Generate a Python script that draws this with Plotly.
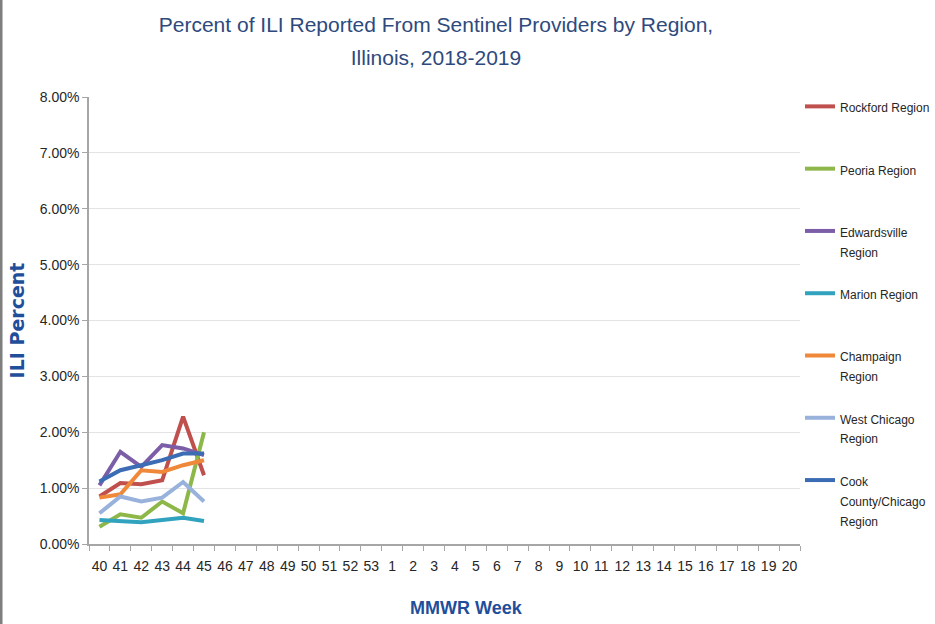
import plotly.graph_objects as go

weeks = [str(w) for w in range(40, 54)] + [str(w) for w in range(1, 21)]
data_weeks = ["40", "41", "42", "43", "44", "45"]

rockford = [0.0085, 0.0109, 0.0107, 0.0114, 0.0228, 0.0123]
peoria = [0.0031, 0.0053, 0.0047, 0.0076, 0.0055, 0.0200]
edwardsville = [0.0105, 0.0165, 0.0138, 0.0177, 0.0171, 0.0159]
marion = [0.0043, 0.0041, 0.0039, 0.0043, 0.0047, 0.0041]
champaign = [0.0083, 0.0089, 0.0132, 0.0129, 0.0141, 0.0150]
west_chicago = [0.0055, 0.0085, 0.0076, 0.0083, 0.0111, 0.0076]
cook = [0.0112, 0.0132, 0.0141, 0.0150, 0.0162, 0.0162]

names = ["Rockford Region", "Peoria Region", "Edwardsville<br>Region", "Marion Region",
         "Champaign<br>Region", "West Chicago<br>Region", "Cook<br>County/Chicago<br>Region"]
values = [rockford, peoria, edwardsville, marion, champaign, west_chicago, cook]
colors = ["#C0504D", "#8DB849", "#7B5EA7", "#31A3BF", "#F0883A", "#98B2DC", "#3C6DB4"]

SANS = "Liberation Sans, Arial, sans-serif"
W, H = 935, 624
L, T, B = 89, 97, 80
AXIS_RIGHT = 800
PAPER_W = W - L
PH = H - T - B
DOM = (AXIS_RIGHT - L) / PAPER_W

fig = go.Figure()
for i, (name, vals, color) in enumerate(zip(names, values, colors)):
    lines = name.split("<br>")
    lines += ["&nbsp;"] * (3 - len(lines))
    label = "<br>".join('<span style="font-size:12px">%s</span>' % s for s in lines)
    fig.add_trace(go.Scatter(
        x=data_weeks, y=vals, mode="lines", name=label,
        legendgroup="g%d" % i,
        line=dict(color=color, width=4),
    ))

fig.update_layout(
    width=W, height=H,
    paper_bgcolor="white", plot_bgcolor="white",
    margin=dict(l=L, r=0, t=T, b=B),
    title=dict(
        text='<span style="font-size:21px">Percent of ILI Reported From Sentinel Providers by Region,</span>'
             '<br><span style="font-size:21px">Illinois, 2018-2019</span>',
        x=436 / W, xanchor="center", xref="container",
        y=1 - 32 / H, yanchor="top", yref="container",
        font=dict(family=SANS, size=25, color="#2E4A7D"),
    ),
    showlegend=True,
    legend=dict(
        xref="paper", yref="paper",
        x=(800 - L) / PAPER_W, xanchor="left", y=1 + (T - 90) / PH, yanchor="top",
        font=dict(family=SANS, size=15.2, color="#262626"),
        valign="top", tracegroupgap=0,
        itemwidth=30, maxheight=600,
        bgcolor="rgba(0,0,0,0)",
    ),
    xaxis=dict(
        domain=[0, DOM],
        type="category", categoryorder="array", categoryarray=weeks,
        range=[-0.5, len(weeks) - 0.5],
        tickmode="array", tickvals=weeks, ticktext=weeks,
        tickson="boundaries", ticks="outside", ticklen=5, tickcolor="#A6A6A6",
        tickangle=0, ticklabelstandoff=8,
        showline=True, linecolor="#A6A6A6", linewidth=1.5,
        showgrid=False,
        tickfont=dict(family=SANS, size=14, color="#262626"),
    ),
    yaxis=dict(
        range=[0, 0.08], tickmode="linear", tick0=0, dtick=0.01,
        tickformat=".2%",
        ticks="outside", ticklen=5, tickcolor="#A6A6A6",
        showline=True, linecolor="#A6A6A6", linewidth=1.5,
        showgrid=True, gridcolor="#E3E3E3", gridwidth=1,
        zeroline=False,
        tickfont=dict(family=SANS, size=14, color="#262626"),
        title=dict(text="<b>ILI Percent</b>", standoff=10,
                   font=dict(family="DejaVu Sans, sans-serif", size=19, color="#1F4E9A")),
    ),
)

fig.add_annotation(
    text="<b>MMWR Week</b>", showarrow=False,
    xref="x domain", yref="y domain",
    x=(466 - L) / (AXIS_RIGHT - L), y=-(608 - (T + PH)) / PH,
    xanchor="center", yanchor="middle",
    font=dict(family=SANS, size=18, color="#1F4E9A"),
)

fig.add_shape(type="line", xref="paper", yref="paper",
              x0=-(L - 1) / PAPER_W, x1=-(L - 1) / PAPER_W, y0=-B / PH, y1=1 + T / PH,
              line=dict(color="#7F7F7F", width=3))

fig.write_html("out.html", config={"displayModeBar": False},
               post_script="document.body.style.margin='0';document.body.style.overflow='hidden';")
